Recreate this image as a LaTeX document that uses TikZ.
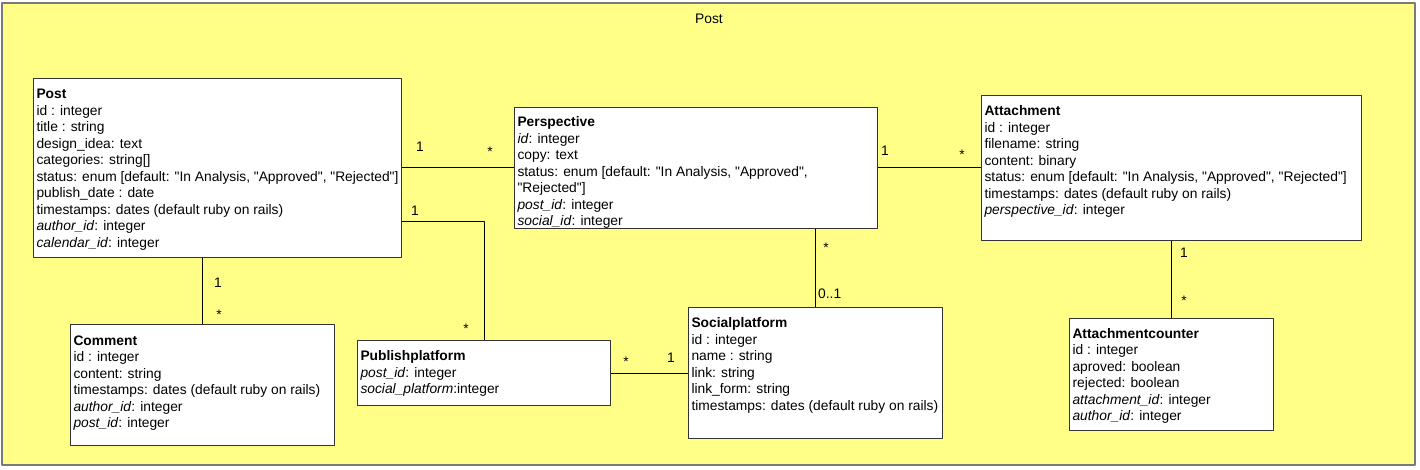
\documentclass[tikz,border=0pt]{standalone}
\usepackage{fontspec}
\newfontfamily\umlfamily{Liberation Sans}
\definecolor{noteyellow}{HTML}{FFFF88}
\definecolor{boxline}{HTML}{333333}
\definecolor{frameline}{HTML}{7A7A7A}
\newcommand{\umlfont}{\umlfamily\fontsize{13.8}{16.5}\selectfont}

\begin{document}
\begin{tikzpicture}[x=1pt,y=-1pt,line join=bevel,
  classbox/.style={draw=boxline,fill=white,line width=1pt,anchor=north west,inner xsep=3pt,inner ysep=0pt,font=\umlfont},
  assoc/.style={draw=black,line width=1pt},
  mult/.style={font=\umlfont,inner sep=0pt,anchor=base}]
%%
\useasboundingbox (0,0) rectangle (1420,470);
\draw [draw=frameline,fill=noteyellow,line width=1.3pt] (2,3) rectangle (1415,465);
\node (title) [mult] at (709,24) {Post};
%
\node (post) [classbox] at (33,78) {\parbox[t][179pt][t]{362pt}{\vspace*{8.5pt}\strut\textbf{Post}\\
  id : integer\\
  title : string\\
  design\_idea: text\\
  categories: string[]\\
  status: enum [default: "In Analysis, "Approved", "Rejected"]\\
  publish\_date : date\\
  timestamps: dates (default ruby on rails)\\
  \textit{author\_id}: integer\\
  \textit{calendar\_id}: integer}};
\node (persp) [classbox] at (514,107) {\parbox[t][121pt][t]{357pt}{\vspace*{7.5pt}\strut\textbf{Perspective}\\
  \textit{id}: integer\\
  copy: text\\
  status: enum [default: "In Analysis, "Approved",\\
  "Rejected"]\\
  \textit{post\_id}: integer\\
  \textit{social\_id}: integer}};
\node (att) [classbox] at (981,95) {\parbox[t][145pt][t]{374pt}{\vspace*{8.5pt}\strut\textbf{Attachment}\\
  id : integer\\
  filename: string\\
  content: binary\\
  status: enum [default: "In Analysis, "Approved", "Rejected"]\\
  timestamps: dates (default ruby on rails)\\
  \textit{perspective\_id}: integer}};
\node (comment) [classbox] at (70,324) {\parbox[t][121pt][t]{258pt}{\vspace*{9pt}\strut\textbf{Comment}\\
  id : integer\\
  content: string\\
  timestamps: dates (default ruby on rails)\\
  \textit{author\_id}: integer\\
  \textit{post\_id}: integer}};
\node (publish) [classbox] at (357,340) {\parbox[t][65pt][t]{247pt}{\vspace*{8.5pt}\strut\textbf{Publishplatform}\\
  \textit{post\_id}: integer\\
  \textit{social\_platform}:integer}};
\node (social) [classbox] at (688,307) {\parbox[t][131pt][t]{248pt}{\vspace*{8.5pt}\strut\textbf{Socialplatform}\\
  id : integer\\
  name : string\\
  link: string\\
  link\_form: string\\
  timestamps: dates (default ruby on rails)}};
\node (counter) [classbox] at (1069,318) {\parbox[t][112pt][t]{198pt}{\vspace*{8pt}\strut\textbf{Attachmentcounter}\\
  id : integer\\
  aproved: boolean\\
  rejected: boolean\\
  \textit{attachment\_id}: integer\\
  \textit{author\_id}: integer}};
%
\draw [assoc] (post.east) -- (persp.west);
\draw [assoc] (persp.east) -- (att.west);
\draw [assoc] (post.south -| comment.north) -- (comment.north);
\draw [assoc] ([yshift=-53.5pt]post.east) -| (publish.north);
\draw [assoc] (persp.south -| social.north) -- (social.north);
\draw [assoc] (publish.east) -- (publish.east -| social.west);
\draw [assoc] (att.south -| counter.north) -- (counter.north);
%
\node (mult_post_persp) [mult] at (420,152) {1};
\node (mult_persp_post) [mult] at (490,157) {*};
\node (mult_post_publish) [mult] at (415,216) {1};
\node (mult_publish_post) [mult] at (466,333) {*};
\node (mult_post_comment) [mult] at (218,287) {1};
\node (mult_comment_post) [mult] at (219,319) {*};
\node (mult_persp_att) [mult] at (885,156) {1};
\node (mult_att_persp) [mult] at (962,160) {*};
\node (mult_persp_social) [mult] at (826,252) {*};
\node (mult_social_persp) [mult,anchor=base west] at (818,298) {0..1};
\node (mult_publish_social) [mult] at (626,366) {*};
\node (mult_social_publish) [mult] at (671,362) {1};
\node (mult_att_counter) [mult] at (1184,258) {1};
\node (mult_counter_att) [mult] at (1184,305) {*};
%
\end{tikzpicture}
\end{document}
